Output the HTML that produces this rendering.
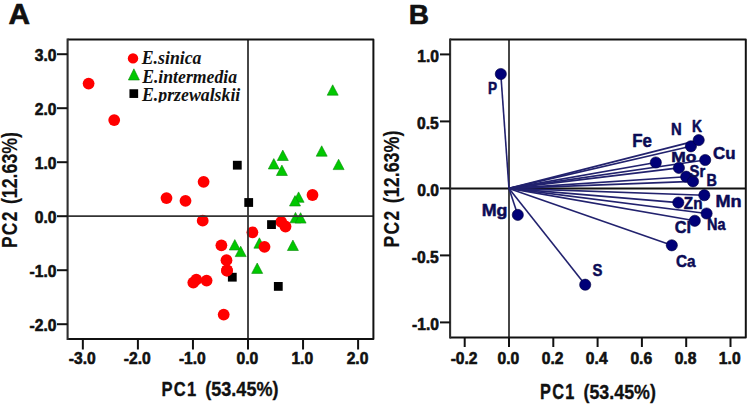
<!DOCTYPE html>
<html><head><meta charset="utf-8"><style>
html,body{margin:0;padding:0;background:#fff;}
body{width:750px;height:406px;overflow:hidden;}
svg{display:block;}
</style></head><body>
<svg width="750" height="406" viewBox="0 0 750 406">
<defs><clipPath id="legclip"><rect x="120" y="40" width="130" height="62.5"/></clipPath></defs>
<rect width="750" height="406" fill="#fff"/>
<polygon points="327.20,95.20 338.20,95.20 332.70,84.80" fill="#00c800" stroke="#0a8a0a" stroke-width="0.6" stroke-linejoin="round"/>
<polygon points="277.30,160.50 288.30,160.50 282.80,150.10" fill="#00c800" stroke="#0a8a0a" stroke-width="0.6" stroke-linejoin="round"/>
<polygon points="268.30,169.00 279.30,169.00 273.80,158.60" fill="#00c800" stroke="#0a8a0a" stroke-width="0.6" stroke-linejoin="round"/>
<polygon points="276.40,175.50 287.40,175.50 281.90,165.10" fill="#00c800" stroke="#0a8a0a" stroke-width="0.6" stroke-linejoin="round"/>
<polygon points="316.20,156.20 327.20,156.20 321.70,145.80" fill="#00c800" stroke="#0a8a0a" stroke-width="0.6" stroke-linejoin="round"/>
<polygon points="333.10,169.60 344.10,169.60 338.60,159.20" fill="#00c800" stroke="#0a8a0a" stroke-width="0.6" stroke-linejoin="round"/>
<polygon points="293.10,202.30 304.10,202.30 298.60,191.90" fill="#00c800" stroke="#0a8a0a" stroke-width="0.6" stroke-linejoin="round"/>
<polygon points="289.50,206.00 300.50,206.00 295.00,195.60" fill="#00c800" stroke="#0a8a0a" stroke-width="0.6" stroke-linejoin="round"/>
<polygon points="290.00,222.80 301.00,222.80 295.50,212.40" fill="#00c800" stroke="#0a8a0a" stroke-width="0.6" stroke-linejoin="round"/>
<polygon points="295.10,223.10 306.10,223.10 300.60,212.70" fill="#00c800" stroke="#0a8a0a" stroke-width="0.6" stroke-linejoin="round"/>
<polygon points="229.30,250.00 240.30,250.00 234.80,239.60" fill="#00c800" stroke="#0a8a0a" stroke-width="0.6" stroke-linejoin="round"/>
<polygon points="235.20,256.60 246.20,256.60 240.70,246.20" fill="#00c800" stroke="#0a8a0a" stroke-width="0.6" stroke-linejoin="round"/>
<polygon points="253.90,248.20 264.90,248.20 259.40,237.80" fill="#00c800" stroke="#0a8a0a" stroke-width="0.6" stroke-linejoin="round"/>
<polygon points="287.40,250.50 298.40,250.50 292.90,240.10" fill="#00c800" stroke="#0a8a0a" stroke-width="0.6" stroke-linejoin="round"/>
<polygon points="251.70,273.40 262.70,273.40 257.20,263.00" fill="#00c800" stroke="#0a8a0a" stroke-width="0.6" stroke-linejoin="round"/>
<circle cx="88.6" cy="83.6" r="5.9" fill="#ff0000"/>
<circle cx="114.2" cy="120.1" r="5.9" fill="#ff0000"/>
<circle cx="203.6" cy="181.8" r="5.9" fill="#ff0000"/>
<circle cx="166.5" cy="198.1" r="5.9" fill="#ff0000"/>
<circle cx="185.5" cy="200.8" r="5.9" fill="#ff0000"/>
<circle cx="202.7" cy="220.7" r="5.9" fill="#ff0000"/>
<circle cx="221.4" cy="245.3" r="5.9" fill="#ff0000"/>
<circle cx="226.5" cy="260.2" r="5.9" fill="#ff0000"/>
<circle cx="227" cy="270.5" r="5.9" fill="#ff0000"/>
<circle cx="196.3" cy="279.6" r="5.9" fill="#ff0000"/>
<circle cx="193.3" cy="282.6" r="5.9" fill="#ff0000"/>
<circle cx="206.6" cy="280.6" r="5.9" fill="#ff0000"/>
<circle cx="223.7" cy="314.6" r="5.9" fill="#ff0000"/>
<circle cx="252.4" cy="232.3" r="5.9" fill="#ff0000"/>
<circle cx="264.5" cy="246.8" r="5.9" fill="#ff0000"/>
<circle cx="281.2" cy="221.8" r="5.9" fill="#ff0000"/>
<circle cx="285.5" cy="226.5" r="5.9" fill="#ff0000"/>
<circle cx="312.5" cy="195" r="5.9" fill="#ff0000"/>
<line x1="67.6" y1="216.2" x2="373.4" y2="216.2" stroke="#333" stroke-width="1.8"/>
<line x1="248.0" y1="39.6" x2="248.0" y2="338.9" stroke="#333" stroke-width="1.8"/>
<rect x="232.90" y="160.80" width="8.8" height="8.8" fill="#000"/>
<rect x="244.30" y="198.10" width="8.8" height="8.8" fill="#000"/>
<rect x="267.10" y="220.20" width="8.8" height="8.8" fill="#000"/>
<rect x="227.90" y="272.80" width="8.8" height="8.8" fill="#000"/>
<rect x="273.90" y="282.00" width="8.8" height="8.8" fill="#000"/>
<circle cx="227" cy="270.5" r="5.9" fill="#ff0000"/>
<circle cx="133" cy="58.4" r="5.2" fill="#ff0000"/>
<polygon points="128.40,80.00 139.40,80.00 133.90,68.80" fill="#00c800" stroke="#0a8a0a" stroke-width="0.6" stroke-linejoin="round"/>
<rect x="129.45" y="89.25" width="8.7" height="8.7" fill="#000"/>
<text transform="translate(141.73,63.70) scale(0.9321,1)" font-family='"Liberation Serif", serif' font-weight="bold" font-style="italic" font-size="19.08" fill="#111">E.sinica</text>
<text transform="translate(142.13,82.50) scale(0.9284,1)" font-family='"Liberation Serif", serif' font-weight="bold" font-style="italic" font-size="19.08" fill="#111">E.intermedia</text>
<g clip-path="url(#legclip)"><text transform="translate(141.93,100.50) scale(0.9333,1)" font-family='"Liberation Serif", serif' font-weight="bold" font-style="italic" font-size="19.08" fill="#111">E.przewalskii</text></g>
<path d="M67.6 39.6 H373.4 V338.9 H67.6" fill="none" stroke="#111" stroke-width="2" stroke-linejoin="round"/>
<line x1="67.6" y1="38.6" x2="67.6" y2="339.9" stroke="#2e2e2e" stroke-width="2.1"/>
<line x1="57" y1="54.19999999999999" x2="67.6" y2="54.19999999999999" stroke="#111" stroke-width="2"/>
<line x1="57" y1="108.19999999999999" x2="67.6" y2="108.19999999999999" stroke="#111" stroke-width="2"/>
<line x1="57" y1="162.2" x2="67.6" y2="162.2" stroke="#111" stroke-width="2"/>
<line x1="57" y1="216.2" x2="67.6" y2="216.2" stroke="#111" stroke-width="2"/>
<line x1="57" y1="270.2" x2="67.6" y2="270.2" stroke="#111" stroke-width="2"/>
<line x1="57" y1="324.2" x2="67.6" y2="324.2" stroke="#111" stroke-width="2"/>
<line x1="82.85000000000002" y1="338.9" x2="82.85000000000002" y2="349.5" stroke="#111" stroke-width="2"/>
<line x1="137.9" y1="338.9" x2="137.9" y2="349.5" stroke="#111" stroke-width="2"/>
<line x1="192.95" y1="338.9" x2="192.95" y2="349.5" stroke="#111" stroke-width="2"/>
<line x1="248.0" y1="338.9" x2="248.0" y2="349.5" stroke="#111" stroke-width="2"/>
<line x1="303.05" y1="338.9" x2="303.05" y2="349.5" stroke="#111" stroke-width="2"/>
<line x1="358.1" y1="338.9" x2="358.1" y2="349.5" stroke="#111" stroke-width="2"/>
<text transform="translate(34.80,60.50) scale(0.9700,1)" font-family='"Liberation Sans", sans-serif' font-weight="bold" font-style="normal" font-size="16.11" fill="#111" stroke="#111" stroke-width="0.6" stroke-linejoin="round">3.0</text>
<text transform="translate(34.80,114.50) scale(0.9700,1)" font-family='"Liberation Sans", sans-serif' font-weight="bold" font-style="normal" font-size="16.11" fill="#111" stroke="#111" stroke-width="0.6" stroke-linejoin="round">2.0</text>
<text transform="translate(34.80,168.50) scale(0.9700,1)" font-family='"Liberation Sans", sans-serif' font-weight="bold" font-style="normal" font-size="16.11" fill="#111" stroke="#111" stroke-width="0.6" stroke-linejoin="round">1.0</text>
<text transform="translate(34.80,222.50) scale(0.9700,1)" font-family='"Liberation Sans", sans-serif' font-weight="bold" font-style="normal" font-size="16.11" fill="#111" stroke="#111" stroke-width="0.6" stroke-linejoin="round">0.0</text>
<text transform="translate(29.60,276.50) scale(0.9700,1)" font-family='"Liberation Sans", sans-serif' font-weight="bold" font-style="normal" font-size="16.11" fill="#111" stroke="#111" stroke-width="0.6" stroke-linejoin="round">-1.0</text>
<text transform="translate(29.60,330.50) scale(0.9700,1)" font-family='"Liberation Sans", sans-serif' font-weight="bold" font-style="normal" font-size="16.11" fill="#111" stroke="#111" stroke-width="0.6" stroke-linejoin="round">-2.0</text>
<text transform="translate(68.79,364.10) scale(0.9700,1)" font-family='"Liberation Sans", sans-serif' font-weight="bold" font-style="normal" font-size="16.11" fill="#111" stroke="#111" stroke-width="0.6" stroke-linejoin="round">-3.0</text>
<text transform="translate(123.84,364.10) scale(0.9700,1)" font-family='"Liberation Sans", sans-serif' font-weight="bold" font-style="normal" font-size="16.11" fill="#111" stroke="#111" stroke-width="0.6" stroke-linejoin="round">-2.0</text>
<text transform="translate(178.89,364.10) scale(0.9700,1)" font-family='"Liberation Sans", sans-serif' font-weight="bold" font-style="normal" font-size="16.11" fill="#111" stroke="#111" stroke-width="0.6" stroke-linejoin="round">-1.0</text>
<text transform="translate(236.54,364.10) scale(0.9700,1)" font-family='"Liberation Sans", sans-serif' font-weight="bold" font-style="normal" font-size="16.11" fill="#111" stroke="#111" stroke-width="0.6" stroke-linejoin="round">0.0</text>
<text transform="translate(291.41,364.10) scale(0.9700,1)" font-family='"Liberation Sans", sans-serif' font-weight="bold" font-style="normal" font-size="16.11" fill="#111" stroke="#111" stroke-width="0.6" stroke-linejoin="round">1.0</text>
<text transform="translate(346.68,364.10) scale(0.9700,1)" font-family='"Liberation Sans", sans-serif' font-weight="bold" font-style="normal" font-size="16.11" fill="#111" stroke="#111" stroke-width="0.6" stroke-linejoin="round">2.0</text>
<text transform="translate(161.46,396.32) scale(0.7937,1)" font-family='"Liberation Sans", sans-serif' font-weight="bold" font-style="normal" font-size="20.87" fill="#111" stroke="#111" stroke-width="0.35" stroke-linejoin="round" letter-spacing="1.638">PC1</text>
<text transform="translate(205.27,396.32) scale(0.8776,1)" font-family='"Liberation Sans", sans-serif' font-weight="bold" font-style="normal" font-size="20.57" fill="#111" stroke="#111" stroke-width="0.35" stroke-linejoin="round">(53.45%)</text>
<text transform="translate(17.32,248.10) rotate(-90) scale(0.7812,1)" font-family='"Liberation Sans", sans-serif' font-weight="bold" font-style="normal" font-size="22.33" fill="#111" stroke="#111" stroke-width="0.15" stroke-linejoin="round" letter-spacing="1.664">PC2</text>
<text transform="translate(17.32,204.11) rotate(-90) scale(0.8078,1)" font-family='"Liberation Sans", sans-serif' font-weight="bold" font-style="normal" font-size="22.01" fill="#111" stroke="#111" stroke-width="0.15" stroke-linejoin="round">(12.63%)</text>
<text transform="translate(8.50,24.45) scale(1.0417,1)" font-family='"Liberation Sans", sans-serif' font-weight="bold" font-style="normal" font-size="28.65" fill="#111" stroke="#111" stroke-width="0.7" stroke-linejoin="round">A</text>
<line x1="450.1" y1="188.4" x2="745.8" y2="188.4" stroke="#111" stroke-width="2"/>
<line x1="509.0" y1="39.4" x2="509.0" y2="337.4" stroke="#333" stroke-width="1.8"/>
<line x1="509.0" y1="188.4" x2="500.8" y2="74.0" stroke="#22226e" stroke-width="1.6"/>
<line x1="509.0" y1="188.4" x2="655.8" y2="162.5" stroke="#22226e" stroke-width="1.6"/>
<line x1="509.0" y1="188.4" x2="690.9" y2="146.3" stroke="#22226e" stroke-width="1.6"/>
<line x1="509.0" y1="188.4" x2="698.7" y2="140.1" stroke="#22226e" stroke-width="1.6"/>
<line x1="509.0" y1="188.4" x2="678.9" y2="167.9" stroke="#22226e" stroke-width="1.6"/>
<line x1="509.0" y1="188.4" x2="705.2" y2="160.0" stroke="#22226e" stroke-width="1.6"/>
<line x1="509.0" y1="188.4" x2="686.2" y2="176.7" stroke="#22226e" stroke-width="1.6"/>
<line x1="509.0" y1="188.4" x2="693.0" y2="181.4" stroke="#22226e" stroke-width="1.6"/>
<line x1="509.0" y1="188.4" x2="704.3" y2="195.2" stroke="#22226e" stroke-width="1.6"/>
<line x1="509.0" y1="188.4" x2="678.3" y2="202.6" stroke="#22226e" stroke-width="1.6"/>
<line x1="509.0" y1="188.4" x2="706.6" y2="213.5" stroke="#22226e" stroke-width="1.6"/>
<line x1="509.0" y1="188.4" x2="694.8" y2="220.8" stroke="#22226e" stroke-width="1.6"/>
<line x1="509.0" y1="188.4" x2="671.8" y2="245.3" stroke="#22226e" stroke-width="1.6"/>
<line x1="509.0" y1="188.4" x2="517.8" y2="214.9" stroke="#22226e" stroke-width="1.6"/>
<line x1="509.0" y1="188.4" x2="585.2" y2="284.7" stroke="#22226e" stroke-width="1.6"/>
<circle cx="500.8" cy="74.0" r="5.6" fill="#000078" stroke="#00003c" stroke-width="0.6"/>
<circle cx="655.8" cy="162.5" r="5.6" fill="#000078" stroke="#00003c" stroke-width="0.6"/>
<circle cx="690.9" cy="146.3" r="5.6" fill="#000078" stroke="#00003c" stroke-width="0.6"/>
<circle cx="698.7" cy="140.1" r="5.6" fill="#000078" stroke="#00003c" stroke-width="0.6"/>
<circle cx="678.9" cy="167.9" r="5.6" fill="#000078" stroke="#00003c" stroke-width="0.6"/>
<circle cx="705.2" cy="160.0" r="5.6" fill="#000078" stroke="#00003c" stroke-width="0.6"/>
<circle cx="686.2" cy="176.7" r="5.6" fill="#000078" stroke="#00003c" stroke-width="0.6"/>
<circle cx="693.0" cy="181.4" r="5.6" fill="#000078" stroke="#00003c" stroke-width="0.6"/>
<circle cx="704.3" cy="195.2" r="5.6" fill="#000078" stroke="#00003c" stroke-width="0.6"/>
<circle cx="678.3" cy="202.6" r="5.6" fill="#000078" stroke="#00003c" stroke-width="0.6"/>
<circle cx="706.6" cy="213.5" r="5.6" fill="#000078" stroke="#00003c" stroke-width="0.6"/>
<circle cx="694.8" cy="220.8" r="5.6" fill="#000078" stroke="#00003c" stroke-width="0.6"/>
<circle cx="671.8" cy="245.3" r="5.6" fill="#000078" stroke="#00003c" stroke-width="0.6"/>
<circle cx="517.8" cy="214.9" r="5.6" fill="#000078" stroke="#00003c" stroke-width="0.6"/>
<circle cx="585.2" cy="284.7" r="5.6" fill="#000078" stroke="#00003c" stroke-width="0.6"/>
<text transform="translate(487.93,93.55) scale(0.8675,1)" font-family='"Liberation Sans", sans-serif' font-weight="bold" font-style="normal" font-size="15.71" fill="#0b0b55" stroke="#0b0b55" stroke-width="0.5" stroke-linejoin="round">P</text>
<text transform="translate(632.21,147.35) scale(0.9683,1)" font-family='"Liberation Sans", sans-serif' font-weight="bold" font-style="normal" font-size="17.45" fill="#0b0b55" stroke="#0b0b55" stroke-width="0.5" stroke-linejoin="round">Fe</text>
<text transform="translate(671.05,135.35) scale(0.8702,1)" font-family='"Liberation Sans", sans-serif' font-weight="bold" font-style="normal" font-size="17.02" fill="#0b0b55" stroke="#0b0b55" stroke-width="0.5" stroke-linejoin="round">N</text>
<text transform="translate(692.02,132.35) scale(0.8395,1)" font-family='"Liberation Sans", sans-serif' font-weight="bold" font-style="normal" font-size="16.44" fill="#0b0b55" stroke="#0b0b55" stroke-width="0.5" stroke-linejoin="round">K</text>
<text transform="translate(671.17,161.75) scale(1.1628,1)" font-family='"Liberation Sans", sans-serif' font-weight="bold" font-style="normal" font-size="14.98" fill="#0b0b55" stroke="#0b0b55" stroke-width="0.5" stroke-linejoin="round">Mo</text>
<text transform="translate(713.08,159.15) scale(1.0735,1)" font-family='"Liberation Sans", sans-serif' font-weight="bold" font-style="normal" font-size="15.71" fill="#0b0b55" stroke="#0b0b55" stroke-width="0.5" stroke-linejoin="round">Cu</text>
<text transform="translate(689.51,176.75) scale(0.9344,1)" font-family='"Liberation Sans", sans-serif' font-weight="bold" font-style="normal" font-size="15.85" fill="#0b0b55" stroke="#0b0b55" stroke-width="0.5" stroke-linejoin="round">Sr</text>
<text transform="translate(706.58,185.55) scale(0.9099,1)" font-family='"Liberation Sans", sans-serif' font-weight="bold" font-style="normal" font-size="15.85" fill="#0b0b55" stroke="#0b0b55" stroke-width="0.5" stroke-linejoin="round">B</text>
<text transform="translate(715.53,206.85) scale(1.0820,1)" font-family='"Liberation Sans", sans-serif' font-weight="bold" font-style="normal" font-size="16.73" fill="#0b0b55" stroke="#0b0b55" stroke-width="0.5" stroke-linejoin="round">Mn</text>
<text transform="translate(683.79,209.25) scale(0.9656,1)" font-family='"Liberation Sans", sans-serif' font-weight="bold" font-style="normal" font-size="15.85" fill="#0b0b55" stroke="#0b0b55" stroke-width="0.5" stroke-linejoin="round">Zn</text>
<text transform="translate(706.97,230.45) scale(0.9118,1)" font-family='"Liberation Sans", sans-serif' font-weight="bold" font-style="normal" font-size="15.85" fill="#0b0b55" stroke="#0b0b55" stroke-width="0.5" stroke-linejoin="round">Na</text>
<text transform="translate(674.80,233.05) scale(1.0276,1)" font-family='"Liberation Sans", sans-serif' font-weight="bold" font-style="normal" font-size="15.85" fill="#0b0b55" stroke="#0b0b55" stroke-width="0.5" stroke-linejoin="round">Cl</text>
<text transform="translate(676.04,266.55) scale(0.9334,1)" font-family='"Liberation Sans", sans-serif' font-weight="bold" font-style="normal" font-size="16.44" fill="#0b0b55" stroke="#0b0b55" stroke-width="0.5" stroke-linejoin="round">Ca</text>
<text transform="translate(481.64,215.75) scale(1.0772,1)" font-family='"Liberation Sans", sans-serif' font-weight="bold" font-style="normal" font-size="16.58" fill="#0b0b55" stroke="#0b0b55" stroke-width="0.5" stroke-linejoin="round">Mg</text>
<text transform="translate(592.60,275.65) scale(0.8678,1)" font-family='"Liberation Sans", sans-serif' font-weight="bold" font-style="normal" font-size="17.16" fill="#0b0b55" stroke="#0b0b55" stroke-width="0.5" stroke-linejoin="round">S</text>
<path d="M450.1 39.4 H745.8 V337.4 H450.1" fill="none" stroke="#111" stroke-width="2" stroke-linejoin="round"/>
<line x1="450.1" y1="38.4" x2="450.1" y2="338.4" stroke="#2e2e2e" stroke-width="2.1"/>
<line x1="440" y1="54.400000000000006" x2="450.1" y2="54.400000000000006" stroke="#111" stroke-width="2"/>
<line x1="440" y1="121.4" x2="450.1" y2="121.4" stroke="#111" stroke-width="2"/>
<line x1="440" y1="188.4" x2="450.1" y2="188.4" stroke="#111" stroke-width="2"/>
<line x1="440" y1="255.4" x2="450.1" y2="255.4" stroke="#111" stroke-width="2"/>
<line x1="440" y1="322.4" x2="450.1" y2="322.4" stroke="#111" stroke-width="2"/>
<line x1="464.7" y1="337.4" x2="464.7" y2="347" stroke="#111" stroke-width="2"/>
<line x1="509.0" y1="337.4" x2="509.0" y2="347" stroke="#111" stroke-width="2"/>
<line x1="553.3" y1="337.4" x2="553.3" y2="347" stroke="#111" stroke-width="2"/>
<line x1="597.6" y1="337.4" x2="597.6" y2="347" stroke="#111" stroke-width="2"/>
<line x1="641.9" y1="337.4" x2="641.9" y2="347" stroke="#111" stroke-width="2"/>
<line x1="686.2" y1="337.4" x2="686.2" y2="347" stroke="#111" stroke-width="2"/>
<line x1="730.5" y1="337.4" x2="730.5" y2="347" stroke="#111" stroke-width="2"/>
<text transform="translate(417.20,62.20) scale(0.9700,1)" font-family='"Liberation Sans", sans-serif' font-weight="bold" font-style="normal" font-size="16.11" fill="#111" stroke="#111" stroke-width="0.6" stroke-linejoin="round">1.0</text>
<text transform="translate(417.00,129.20) scale(0.9700,1)" font-family='"Liberation Sans", sans-serif' font-weight="bold" font-style="normal" font-size="16.11" fill="#111" stroke="#111" stroke-width="0.6" stroke-linejoin="round">0.5</text>
<text transform="translate(417.20,196.20) scale(0.9700,1)" font-family='"Liberation Sans", sans-serif' font-weight="bold" font-style="normal" font-size="16.11" fill="#111" stroke="#111" stroke-width="0.6" stroke-linejoin="round">0.0</text>
<text transform="translate(411.81,263.20) scale(0.9700,1)" font-family='"Liberation Sans", sans-serif' font-weight="bold" font-style="normal" font-size="16.11" fill="#111" stroke="#111" stroke-width="0.6" stroke-linejoin="round">-0.5</text>
<text transform="translate(412.00,330.20) scale(0.9700,1)" font-family='"Liberation Sans", sans-serif' font-weight="bold" font-style="normal" font-size="16.11" fill="#111" stroke="#111" stroke-width="0.6" stroke-linejoin="round">-1.0</text>
<text transform="translate(450.64,364.30) scale(0.9700,1)" font-family='"Liberation Sans", sans-serif' font-weight="bold" font-style="normal" font-size="16.11" fill="#111" stroke="#111" stroke-width="0.6" stroke-linejoin="round">-0.2</text>
<text transform="translate(497.54,364.30) scale(0.9700,1)" font-family='"Liberation Sans", sans-serif' font-weight="bold" font-style="normal" font-size="16.11" fill="#111" stroke="#111" stroke-width="0.6" stroke-linejoin="round">0.0</text>
<text transform="translate(541.84,364.30) scale(0.9700,1)" font-family='"Liberation Sans", sans-serif' font-weight="bold" font-style="normal" font-size="16.11" fill="#111" stroke="#111" stroke-width="0.6" stroke-linejoin="round">0.2</text>
<text transform="translate(585.86,364.30) scale(0.9700,1)" font-family='"Liberation Sans", sans-serif' font-weight="bold" font-style="normal" font-size="16.11" fill="#111" stroke="#111" stroke-width="0.6" stroke-linejoin="round">0.4</text>
<text transform="translate(630.40,364.30) scale(0.9700,1)" font-family='"Liberation Sans", sans-serif' font-weight="bold" font-style="normal" font-size="16.11" fill="#111" stroke="#111" stroke-width="0.6" stroke-linejoin="round">0.6</text>
<text transform="translate(674.66,364.30) scale(0.9700,1)" font-family='"Liberation Sans", sans-serif' font-weight="bold" font-style="normal" font-size="16.11" fill="#111" stroke="#111" stroke-width="0.6" stroke-linejoin="round">0.8</text>
<text transform="translate(718.86,364.30) scale(0.9700,1)" font-family='"Liberation Sans", sans-serif' font-weight="bold" font-style="normal" font-size="16.11" fill="#111" stroke="#111" stroke-width="0.6" stroke-linejoin="round">1.0</text>
<text transform="translate(540.07,399.12) scale(0.7726,1)" font-family='"Liberation Sans", sans-serif' font-weight="bold" font-style="normal" font-size="21.16" fill="#111" stroke="#111" stroke-width="0.35" stroke-linejoin="round" letter-spacing="1.683">PC1</text>
<text transform="translate(583.48,399.12) scale(0.8558,1)" font-family='"Liberation Sans", sans-serif' font-weight="bold" font-style="normal" font-size="20.86" fill="#111" stroke="#111" stroke-width="0.35" stroke-linejoin="round">(53.45%)</text>
<text transform="translate(399.32,247.41) rotate(-90) scale(0.8046,1)" font-family='"Liberation Sans", sans-serif' font-weight="bold" font-style="normal" font-size="21.75" fill="#111" stroke="#111" stroke-width="0.15" stroke-linejoin="round" letter-spacing="1.616">PC2</text>
<text transform="translate(399.32,203.22) rotate(-90) scale(0.8364,1)" font-family='"Liberation Sans", sans-serif' font-weight="bold" font-style="normal" font-size="21.43" fill="#111" stroke="#111" stroke-width="0.15" stroke-linejoin="round">(12.63%)</text>
<text transform="translate(408.81,24.10) scale(0.9934,1)" font-family='"Liberation Sans", sans-serif' font-weight="bold" font-style="normal" font-size="28.22" fill="#111" stroke="#111" stroke-width="0.6" stroke-linejoin="round">B</text>
</svg></body></html>
